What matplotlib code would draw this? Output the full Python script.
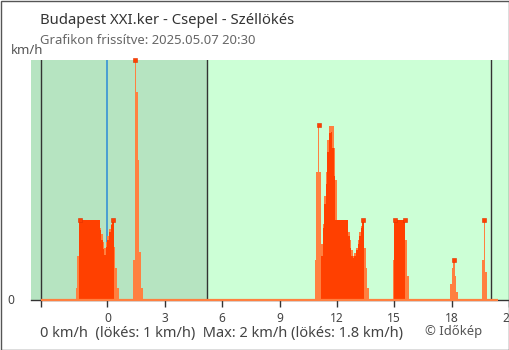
import numpy as np
import matplotlib
matplotlib.use("Agg")
import matplotlib.pyplot as plt
from matplotlib.patches import Rectangle

plt.rcParams['font.family'] = ['Noto Sans', 'DejaVu Sans']

# ---------------- data (hours relative to midnight, km/h) ----------------
STEP = 5 / 60  # 5-minute samples

c1_start = -1.75
c1_gust = [0, 0.15, 0.55, 1.0, 1.0, 1.0, 1.0, 1.0, 1.0, 1.0, 1.0, 1.0, 1.0, 1.0,
           1.0, 1.0, 0.9, 0.82, 0.72, 0.65, 0.72, 0.8, 0.88, 0.95, 1.0, 0.66, 0.4, 0.15]
c1_wind = [0, 0, 0, 1.0, 1.0, 1.0, 1.0, 1.0, 1.0, 1.0, 1.0, 1.0, 1.0, 1.0,
           1.0, 1.0, 0.87, 0.75, 0.63, 0.56, 0.66, 0.75, 0.85, 0.93, 1.0, 0, 0, 0]

c2_start = 1 + 20 / 60
c2_gust = [0.5, 3.0, 2.6, 1.75, 0.6, 0.15]
c2_wind = [0, 0, 0, 0, 0, 0]

c3_start = 10.75
c3_gust = [0, 0.5, 1.6, 2.18, 1.6, 0.7, 0.95, 1.3, 1.6, 2.0, 2.17, 2.17, 2.17, 1.9, 1.5,
           1.0, 1.0, 1.0, 1.0, 1.0, 1.0, 1.0,
           0.85, 0.75, 0.62, 0.55, 0.58, 0.65, 0.75, 0.85, 0.92, 1.0, 0.65, 0.4, 0.15]
c3_wind = [0, 0, 0, 0, 0, 0.55, 0.9, 1.2, 1.45, 1.85, 2.08, 2.1, 1.9, 1.55, 1.0,
           1.0, 1.0, 1.0, 1.0, 1.0, 1.0, 1.0,
           0.8, 0.65, 0.55, 0.52, 0.55, 0.62, 0.7, 0.8, 0.9, 1.0, 0, 0, 0]

c4_start = 14 + 55 / 60
c4_gust = [0.5, 1.0, 1.0, 1.0, 1.0, 1.0, 1.0, 1.0, 0.75, 0.3]
c4_wind = [0, 1.0, 1.0, 1.0, 1.0, 1.0, 1.0, 1.0, 0, 0]

c5_start = 17 + 55 / 60
c5_gust = [0.2, 0.4, 0.5, 0.3, 0.1]
c5_wind = [0, 0, 0, 0, 0]

c6_start = 19 + 35 / 60
c6_gust = [0.5, 1.0, 0.35]
c6_wind = [0, 0, 0]

peak_times = [-1.46, 0.29, 1.46, 11.04, 13.38, 15.04, 15.54, 18.13, 19.71]
peak_vals = [1.0, 1.0, 3.0, 2.18, 1.0, 1.0, 1.0, 0.5, 1.0]

data_start, data_end = -3.5, 20.4      # extent of the recorded series
sunrise, sunset = 5.21, 20.05
x_ticks = [0, 3, 6, 9, 12, 15, 18, 21]

title = "Budapest XXI.ker - Csepel - Széllökés"
subtitle = "Grafikon frissítve: 2025.05.07 20:30"
unit = "km/h"
summary = "0 km/h  (lökés: 1 km/h)  Max: 2 km/h (lökés: 1.8 km/h)"
credit = "© Időkép"

# ---------------- figure ----------------
W, H = 510, 350
fig = plt.figure(figsize=(W / 100, H / 100), dpi=100)
ax = fig.add_axes([31 / W, (H - 299.5) / H, (509 - 31) / W, (299.5 - 60) / H])

ax.set_xlim(-4, 21)
ax.set_ylim(0, 3)
ax.set_facecolor('#ccffd6')
ax.axvspan(-4, sunrise, color='#b6e4c1', lw=0, zorder=0)

for x, c in [(data_start, '#333333'), (sunrise, '#333333'), (sunset, '#333333')]:
    ax.axvline(x, color=c, lw=1.0, zorder=1)
ax.axvline(0, color='#2b8ad6', lw=1.1, zorder=1)

clusters = [(c1_start, c1_gust, c1_wind), (c2_start, c2_gust, c2_wind),
            (c3_start, c3_gust, c3_wind), (c4_start, c4_gust, c4_wind),
            (c5_start, c5_gust, c5_wind), (c6_start, c6_gust, c6_wind)]
for start, gust, wind in clusters:
    t = start + STEP * np.arange(len(gust))
    ax.bar(t, gust, width=STEP, align='edge', color='#ff8040', lw=0, zorder=3)
    ax.bar(t, wind, width=STEP, align='edge', color='#ff4000', lw=0, zorder=4)

ax.plot([data_start, data_end], [0, 0], color='#ff8040', lw=1.6, zorder=6,
        clip_on=False, solid_capstyle='butt')
ax.plot(peak_times, peak_vals, ls='none', marker='s', ms=2.3, mfc='#ff4000',
        mec='#e03000', mew=0.4, zorder=7, clip_on=False)

for s in ['top', 'right', 'left']:
    ax.spines[s].set_visible(False)
ax.spines['bottom'].set_color('#333333')
ax.spines['bottom'].set_linewidth(1.0)

ax.set_xticks([data_start] + x_ticks)
ax.set_xticklabels([''] + [str(v) for v in x_ticks])
ax.tick_params(axis='x', length=5, width=1, color='#333333', labelsize=8.6,
               labelcolor='#444444', pad=4)
ax.get_xticklines()[2].set_color('#2b8ad6')
ax.set_yticks([0])
ax.set_yticklabels(['0'])
ax.tick_params(axis='y', length=0, labelsize=8.6, labelcolor='#444444', pad=12)

fig.text(40 / W, 1 - 20 / H, title, fontsize=10.7, color='#333333', va='center', ha='left')
fig.text(40 / W, 1 - 41 / H, subtitle, fontsize=9.4, color='#666666', va='center', ha='left')
fig.text(11 / W, 1 - 50 / H, unit, fontsize=9.5, color='#555555', va='center', ha='left')
fig.text(40 / W, 1 - 333 / H, summary, fontsize=10.5, color='#444444', va='center', ha='left')
fig.text(425 / W, 1 - 331 / H, credit, fontsize=9.4, color='#555555', va='center', ha='left')

fig.patches.append(Rectangle((0.5 / W, 0.5 / H), 1 - 1.5 / W, 1 - 1.5 / H,
                             transform=fig.transFigure, fill=False,
                             edgecolor='#555555', lw=1.0))

fig.savefig('out.png', dpi=100)
